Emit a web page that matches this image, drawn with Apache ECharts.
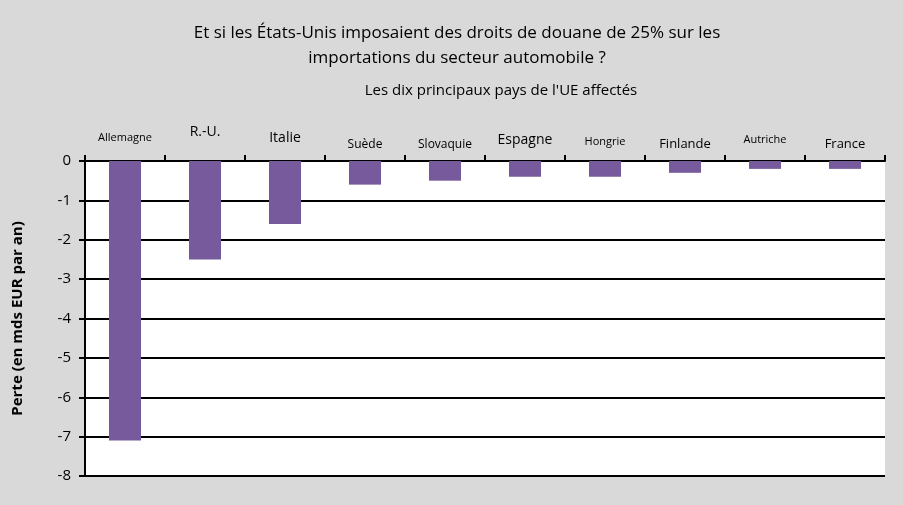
<!DOCTYPE html><html><head><meta charset="utf-8"><script src="https://cdn.jsdelivr.net/npm/echarts@6/dist/echarts.min.js"></script></head>
<body style="margin:0;background:#d9d9d9"><div id="c" style="width:903px;height:505px"></div><script>
const categories=['Allemagne','R.-U.','Italie','Suède','Slovaquie','Espagne','Hongrie','Finlande','Autriche','France'];
const values=[-7.1,-2.5,-1.6,-0.6,-0.5,-0.4,-0.4,-0.3,-0.2,-0.2];
const labelSizes=[11,14,14,12,12,14,11,13,11,13];
const labelLift=[6,10,4,-2,-2,2,2,-2,4,-2];
const rich={};labelSizes.forEach((s,i)=>rich['s'+i]={fontSize:s,color:'#000',padding:[0,0,labelLift[i],0]});
const chart=echarts.init(document.getElementById('c'));
chart.setOption({backgroundColor:'#d9d9d9',textStyle:{fontFamily:'Open Sans',color:'#000'},
title:[{text:"Et si les États-Unis imposaient des droits de douane de 25% sur les\nimportations du secteur automobile ?",left:452,top:16,textAlign:'center',textStyle:{fontSize:17,color:'#000',fontWeight:'normal',lineHeight:25,fontFamily:'Open Sans'}},
{text:"Les dix principaux pays de l'UE affectés",left:496,top:78,textAlign:'center',textStyle:{fontSize:15,color:'#000',fontWeight:'normal',fontFamily:'Open Sans'}}],
grid:{left:85,right:18,top:161,bottom:29,show:true,backgroundColor:'#fff',borderWidth:0},
xAxis:{type:'category',position:'top',data:categories,axisLine:{lineStyle:{color:'#000',width:2}},axisTick:{show:true,interval:0,length:6,lineStyle:{color:'#000',width:2}},
axisLabel:{interval:0,hideOverlap:false,margin:12,color:'#000',formatter:(v,i)=>'{s'+i+'|'+v+'}',rich}},
yAxis:{type:'value',min:-8,max:0,interval:1,name:'Perte (en mds EUR par an)',nameLocation:'middle',nameGap:60,nameTextStyle:{fontSize:15,fontWeight:'bold',color:'#000'},
axisLine:{show:true,lineStyle:{color:'#000',width:2}},axisTick:{show:true,length:6,lineStyle:{color:'#000',width:2}},
splitLine:{lineStyle:{color:'#000',width:2}},axisLabel:{fontSize:15,color:'#000',margin:14}},
series:[{type:'bar',data:values,barWidth:'40%',itemStyle:{color:'#775a9b'}}]});
</script></body></html>
